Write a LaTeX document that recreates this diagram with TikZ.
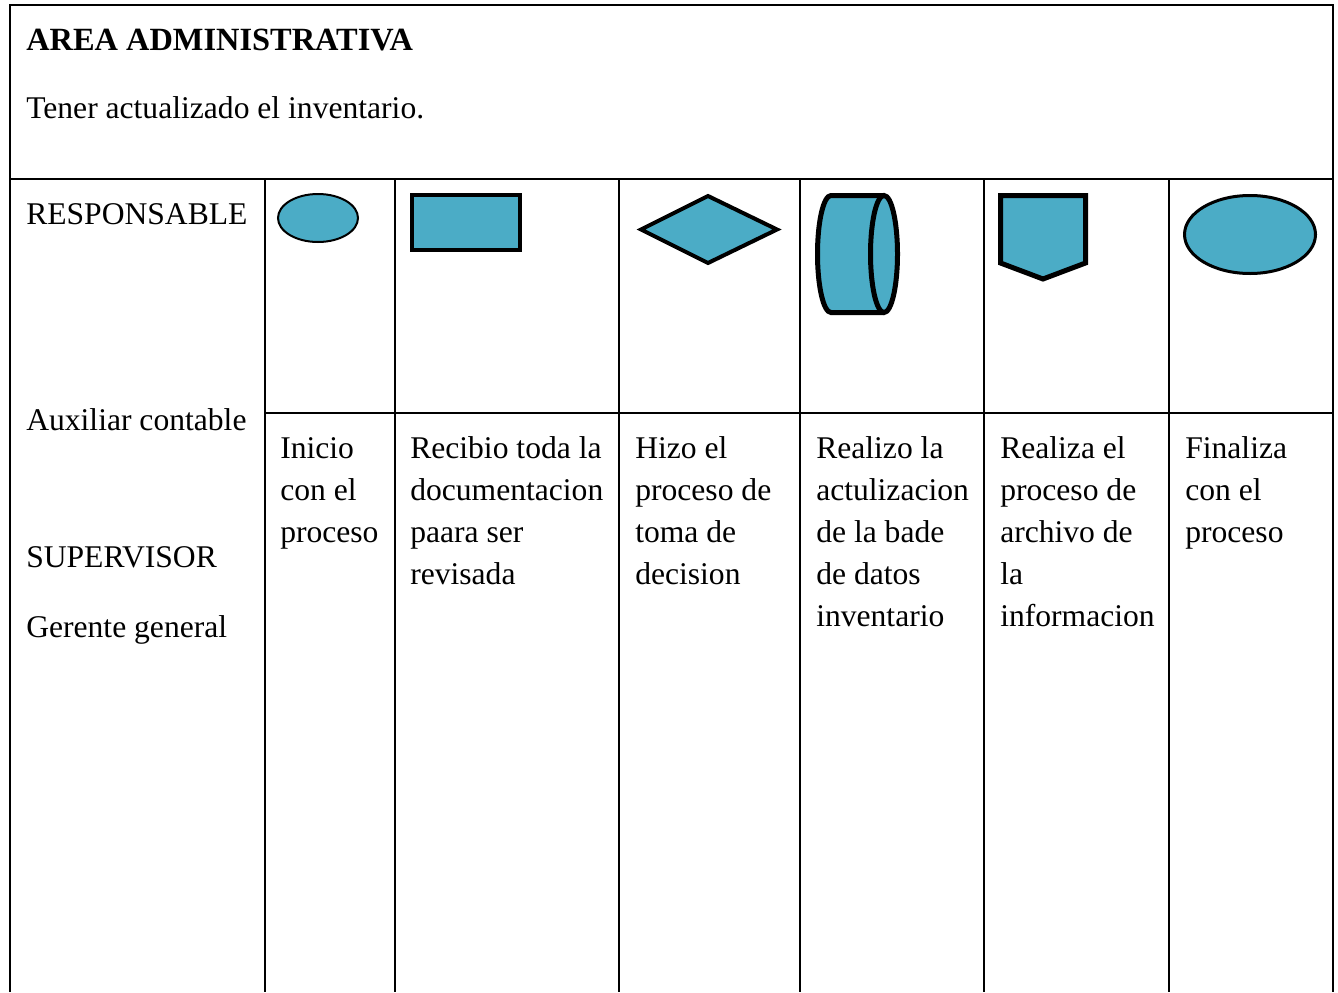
\documentclass[tikz,border=0pt]{standalone}
\usepackage{fontspec}
\setmainfont{Liberation Serif}
\definecolor{celeste}{HTML}{4BACC6}
\newcommand{\letra}{\fontsize{23.7pt}{31.5pt}\selectfont}
\begin{document}
\begin{tikzpicture}[x=0.75pt,y=-0.75pt,
    linea/.style={line width=1.6pt},
    texto/.style={anchor=base west,inner sep=0pt,align=left,font=\letra},
    figura/.style={fill=celeste,draw=black,line join=miter}]
    \useasboundingbox (0,0) rectangle (1338,992);
    % marco de la tabla
    \draw[linea] (10,992) -- (10,5) -- (1333,5) -- (1333,992);
    \draw[linea] (10,179) -- (1333,179);
    \draw[linea] (265,413) -- (1333,413);
    \foreach \x in {265,395,619,800,984,1169}
        \draw[linea] (\x,179) -- (\x,992);
    % encabezado
    \node[texto,font=\fontsize{24.3pt}{31.5pt}\selectfont\bfseries] (titulo) at (26,50) {AREA ADMINISTRATIVA};
    \node[texto] (objetivo) at (26,118) {Tener actualizado el inventario.};
    % primera columna
    \node[texto] (responsable) at (26,224) {RESPONSABLE};
    \node[texto] (auxiliar) at (26,430) {Auxiliar contable};
    \node[texto] (supervisor) at (26,567) {SUPERVISOR};
    \node[texto] (gerente) at (26,637) {Gerente general};
    % simbolos
    \draw[figura,line width=1.5pt] (318,218) ellipse [x radius=40,y radius=24];
    \draw[figura,line width=3.5pt] (412,195) rectangle (520,250);
    \draw[figura,line width=3pt] (641,229.5) -- (708,196) -- (777,229.5)
                                 -- (708,263) -- cycle;
    % cilindro
    \draw[figura,line width=3.75pt] (884,195.5) -- (831,195.5)
        .. controls (823.5,195.5) and (817.5,221.7) .. (817.5,254)
        .. controls (817.5,286.3) and (823.5,312.5) .. (831,312.5) -- (884,312.5);
    \draw[figura,line width=3.75pt] (884,254) ellipse [x radius=13.5,y radius=58.5];
    % conector fuera de pagina
    \draw[figura,line width=3.75pt] (1000.5,195.5) -- (1085.5,195.5) -- (1085.5,263)
                                    -- (1043,279) -- (1000.5,263) -- cycle;
    \draw[figura,line width=2.25pt] (1250,234.5) ellipse [x radius=65.5,y radius=39];
    % descripcion de cada paso (base = ultima linea)
    \node[texto] (inicio) at (280,542) {Inicio\\con el\\proceso};
    \node[texto] (recibio) at (410,584) {Recibio toda la\\documentacion\\paara ser\\revisada};
    \node[texto] (hizo) at (635,584) {Hizo el\\proceso de\\toma de\\decision};
    \node[texto] (realizo) at (816,626) {Realizo la\\actulizacion\\de la bade\\de datos\\inventario};
    \node[texto] (realiza) at (1000,626) {Realiza el\\proceso de\\archivo de\\la\\informacion};
    \node[texto] (finaliza) at (1185,542) {Finaliza\\con el\\proceso};
\end{tikzpicture}
\end{document}
